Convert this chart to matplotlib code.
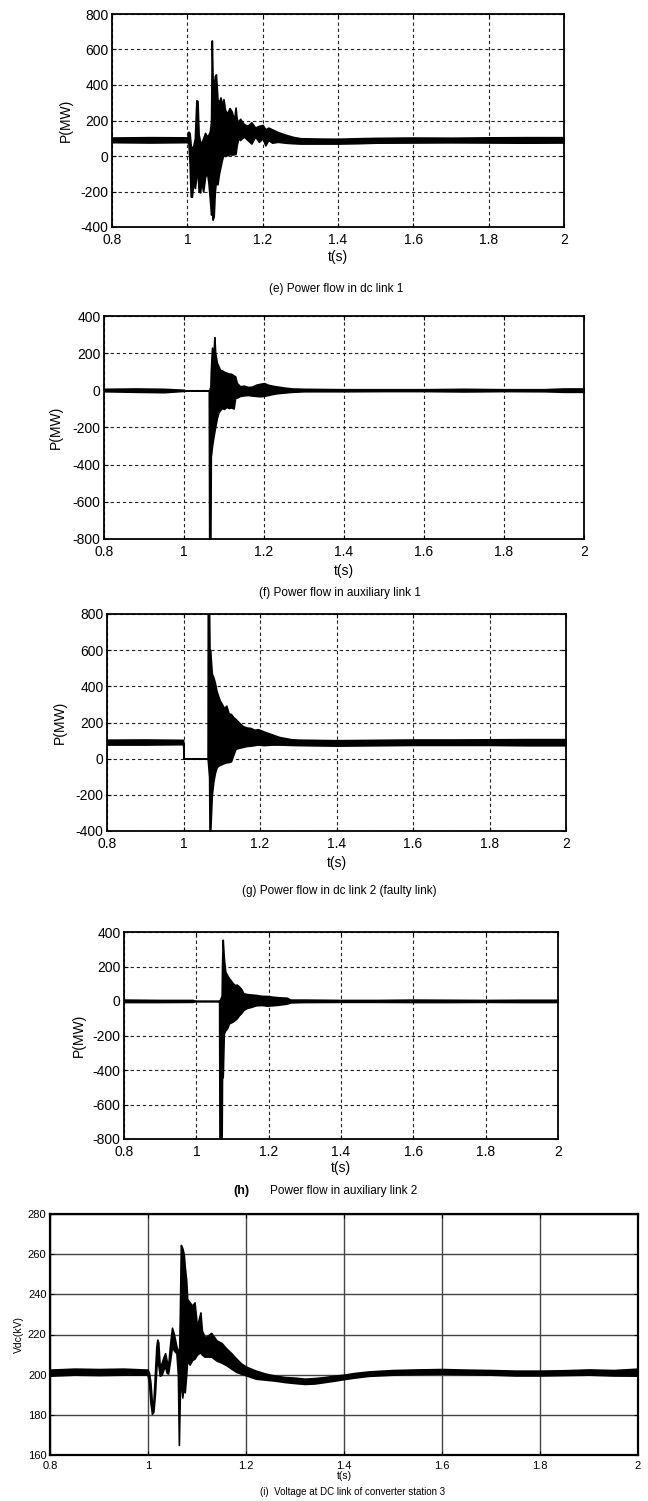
import matplotlib as mpl
mpl.use("Agg")
import matplotlib.pyplot as plt

# =============================================================================
# 0) Style
# =============================================================================
mpl.rcParams['font.family'] = ['Liberation Sans', 'DejaVu Sans']
mpl.rcParams['axes.linewidth'] = 1.3
mpl.rcParams['xtick.direction'] = 'in'
mpl.rcParams['ytick.direction'] = 'in'

W, H = 648, 1501
DPI = 100

# =============================================================================
# 1) Data (envelopes: time, upper, lower)
# =============================================================================
# (e) power flow in dc link 1, MW
e_t = [0.80, 0.90, 1.000, 1.003, 1.006, 1.009, 1.012, 1.016, 1.020, 1.024, 1.027,
       1.030, 1.034, 1.037, 1.042, 1.047, 1.052, 1.056, 1.060, 1.063, 1.065, 1.067,
       1.070, 1.073, 1.076, 1.080, 1.084, 1.088, 1.092, 1.096, 1.100, 1.106, 1.112,
       1.118, 1.124, 1.128, 1.131, 1.135, 1.140, 1.150, 1.160, 1.170, 1.180, 1.190,
       1.200, 1.207, 1.215, 1.225, 1.240, 1.260, 1.280, 1.300, 1.35, 1.40, 1.45,
       1.50, 1.60, 1.70, 1.80, 1.90, 2.00]
e_hi = [104, 106, 105, 137, 130, 60, 40, 60, 100, 314, 310,
        120, 80, 70, 100, 130, 110, 120, 140, 200, 651, 440,
        380, 450, 460, 320, 300, 330, 290, 320, 260, 240, 270,
        250, 200, 273, 210, 190, 210, 180, 170, 190, 160, 170,
        175, 150, 160, 150, 135, 120, 108, 100, 98, 97, 100,
        102, 104, 103, 105, 106, 106]
e_lo = [78, 76, 78, 70, -40, -228, -230, -150, -180, -120, -60,
        -200, -205, -140, -200, -120, -90, -150, -250, -330, -300, -359,
        -340, -200, -140, -160, -100, -60, -20, 10, 0, 5, 10,
        8, 10, 12, 60, 100, 90, 110, 90, 70, 110, 80,
        100, 60, 90, 75, 80, 75, 72, 70, 70, 70, 72,
        75, 76, 77, 76, 75, 76]

# (f) power flow in auxiliary link 1, MW
f_t = [0.80, 0.88, 0.95, 0.999, 1.000, 1.062, 1.063, 1.066, 1.067, 1.070, 1.073,
       1.076, 1.078, 1.082, 1.086, 1.090, 1.095, 1.100, 1.106, 1.112, 1.118, 1.124,
       1.128, 1.132, 1.140, 1.150, 1.160, 1.170, 1.180, 1.190, 1.200, 1.210, 1.220,
       1.235, 1.250, 1.270, 1.30, 1.40, 1.50, 1.60, 1.70, 1.80, 1.90, 1.95, 2.00]
f_hi = [8, 10, 8, 3, 0, 0, 0, 20, 100, 230, 160,
        286, 200, 150, 130, 110, 107, 100, 95, 90, 89, 80,
        75, 40, 22, 25, 18, 20, 30, 35, 39, 30, 25,
        20, 15, 10, 8, 6, 6, 6, 8, 6, 6, 10, 10]
f_lo = [-5, -8, -10, -3, 0, 0, -800, -800, -357, -300, -259,
        -220, -196, -150, -120, -107, -95, -100, -89, -95, -92, -98,
        -40, -39, -30, -27, -25, -28, -30, -32, -30, -25, -20,
        -15, -12, -8, -5, -5, -4, -4, -6, -4, -5, -8, -8]

# (g) power flow in dc link 2 (faulty link), MW
g_t = [0.80, 0.90, 0.999, 1.0005, 1.063, 1.0635, 1.067, 1.068, 1.070, 1.071, 1.074,
       1.078, 1.082, 1.086, 1.090, 1.095, 1.100, 1.106, 1.112, 1.118, 1.124, 1.130,
       1.136, 1.145, 1.155, 1.165, 1.175, 1.185, 1.195, 1.210, 1.230, 1.250, 1.280,
       1.30, 1.40, 1.50, 1.60, 1.70, 1.80, 1.90, 2.00]
g_hi = [105, 106, 104, 0, 0, 800, 800, 600, 602, 560, 471,
        450, 420, 377, 350, 320, 303, 280, 293, 250, 247, 230,
        219, 200, 180, 172, 170, 160, 163, 150, 135, 120, 108,
        105, 102, 104, 106, 106, 107, 108, 108]
g_lo = [78, 78, 80, 0, 0, -10, -100, -400, -400, -351, -200,
        -127, -80, -50, -40, -34, -30, -24, -20, -19, -15, 20,
        55, 60, 65, 70, 72, 75, 78, 75, 78, 78, 76,
        75, 72, 74, 76, 76, 76, 74, 74]

# (h) power flow in auxiliary link 2, MW
h_t = [0.80, 0.90, 0.99, 1.000, 1.063, 1.064, 1.070, 1.071, 1.073, 1.076, 1.080,
       1.085, 1.090, 1.095, 1.100, 1.106, 1.112, 1.118, 1.124, 1.130, 1.140, 1.150,
       1.165, 1.180, 1.195, 1.210, 1.225, 1.240, 1.250, 1.26, 1.30, 1.40, 1.50,
       1.60, 1.70, 1.80, 1.90, 2.00]
h_hi = [8, 6, 6, 0, 0, 0, 30, 200, 355, 250, 171,
        150, 132, 120, 105, 93, 95, 84, 70, 45, 40, 38,
        35, 30, 29, 25, 22, 20, 19, 8, 8, 6, 6,
        8, 7, 6, 7, 7]
h_lo = [-6, -6, -5, 0, 0, -800, -800, -450, -440, -188, -170,
        -159, -130, -125, -120, -110, -100, -82, -70, -52, -40, -35,
        -25, -23, -27, -25, -22, -18, -15, -8, -6, -5, -5,
        -6, -6, -5, -6, -6]

# (i) dc voltage at converter station 3, kV
i_t = [0.80, 0.85, 0.90, 0.95, 0.999, 1.002, 1.005, 1.008, 1.011, 1.014, 1.017,
       1.019, 1.021, 1.024, 1.028, 1.032, 1.035, 1.038, 1.041, 1.045, 1.049, 1.053,
       1.058, 1.061, 1.063, 1.065, 1.067, 1.070, 1.073, 1.075, 1.078, 1.080, 1.085,
       1.090, 1.095, 1.100, 1.104, 1.107, 1.110, 1.115, 1.120, 1.129, 1.140, 1.150,
       1.160, 1.170, 1.180, 1.190, 1.200, 1.210, 1.220, 1.240, 1.260, 1.280, 1.300,
       1.320, 1.340, 1.360, 1.380, 1.400, 1.420, 1.450, 1.500, 1.550, 1.600, 1.650,
       1.700, 1.750, 1.800, 1.850, 1.900, 1.950, 2.000]
i_hi = [202.5, 203, 202.8, 203, 202.5, 201, 196, 186, 186, 200, 214,
        217.5, 216, 204, 206, 209, 210.7, 207, 204, 215, 223.4, 220,
        214, 212, 205, 230, 264.6, 263, 260, 253.9, 247, 237.8, 236,
        234.4, 236, 224, 228, 231, 222, 219, 219, 220.8, 217, 215.8,
        213, 210.7, 208, 205.6, 204, 203, 202, 200.5, 199.5, 198.8, 198.5,
        198, 198.3, 198.8, 199.5, 200, 200.8, 201.6, 202.3, 202.6, 202.8, 202.5,
        202.3, 202, 202, 202.2, 202.6, 202.3, 203]
i_lo = [199.5, 200, 199.8, 200, 200, 196, 186, 180.5, 181.5, 190, 203,
        210, 205, 199.5, 200, 203, 204, 201, 200.5, 207, 214, 212,
        210.7, 200, 165, 190, 198.8, 188.6, 195, 191.2, 200, 207.3, 205,
        207.3, 208, 210, 210.7, 211, 210, 209, 209, 209, 207, 206,
        204.7, 203, 201.4, 200.5, 199.7, 198.8, 198, 197.5, 197, 196.3, 195.8,
        195.4, 195.6, 196.3, 197, 197.8, 198.5, 199.4, 200, 200.3, 200.5, 200.2,
        200, 199.6, 199.6, 199.8, 200, 199.6, 199.5]

x_ticks = [0.8, 1.0, 1.2, 1.4, 1.6, 1.8, 2.0]
x_ticklabels = ["0.8", "1", "1.2", "1.4", "1.6", "1.8", "2"]

# =============================================================================
# 2) Panel layout (pixel boxes: left, right, top, bottom) and captions
# =============================================================================
panels = [
    dict(t=e_t, hi=e_hi, lo=e_lo, box=(112, 564, 14, 227), ylim=(-400, 800),
         yticks=[-400, -200, 0, 200, 400, 600, 800], ylabel="P(MW)", ylab_x=66,
         xlab_y=257, cap="(e) Power flow in dc link 1", cap_x=336, cap_y=289),
    dict(t=f_t, hi=f_hi, lo=f_lo, box=(104, 584, 316, 539), ylim=(-800, 400),
         yticks=[-800, -600, -400, -200, 0, 200, 400], ylabel="P(MW)", ylab_x=56,
         xlab_y=571, cap="(f) Power flow in auxiliary link 1", cap_x=340, cap_y=593),
    dict(t=g_t, hi=g_hi, lo=g_lo, box=(107, 566, 614, 831), ylim=(-400, 800),
         yticks=[-400, -200, 0, 200, 400, 600, 800], ylabel="P(MW)", ylab_x=60,
         xlab_y=863, cap="(g) Power flow in dc link 2 (faulty link)", cap_x=339, cap_y=891),
    dict(t=h_t, hi=h_hi, lo=h_lo, box=(124, 558, 932, 1139), ylim=(-800, 400),
         yticks=[-800, -600, -400, -200, 0, 200, 400], ylabel="P(MW)", ylab_x=79,
         xlab_y=1168, cap=None, cap_x=0, cap_y=1191),
    dict(t=i_t, hi=i_hi, lo=i_lo, box=(50, 638, 1214, 1455), ylim=(160, 280),
         yticks=[160, 180, 200, 220, 240, 260, 280], ylabel="Vdc(kV)", ylab_x=19,
         xlab_y=1476, cap="(i)  Voltage at DC link of converter station 3", cap_x=353,
         cap_y=1492),
]

fig = plt.figure(figsize=(W / DPI, H / DPI), dpi=DPI)
fig.patch.set_facecolor("white")


def fx(px):
    return px / W


def fy(py):
    return 1 - py / H


# =============================================================================
# 3) Plot
# =============================================================================
for k, p in enumerate(panels):
    l, r, t, b = p["box"]
    ax = fig.add_axes([fx(l), fy(b), (r - l) / W, (b - t) / H])
    last = (k == 4)

    ax.fill_between(p["t"], p["lo"], p["hi"], facecolor="k", edgecolor="k",
                    linewidth=1.2, zorder=3)

    ax.set_xlim(0.8, 2.0)
    ax.set_ylim(*p["ylim"])
    ax.set_xticks(x_ticks)
    ax.set_xticklabels(x_ticklabels)
    ax.set_yticks(p["yticks"])
    ax.set_yticklabels([str(v) for v in p["yticks"]])

    tick_fs = 8 if last else 10
    ax.tick_params(axis="both", labelsize=tick_fs, length=3, width=0.8,
                   top=True, right=True)
    ax.tick_params(axis="x", pad=4.5 if last else 4)
    ax.tick_params(axis="y", pad=2.5)

    if last:
        ax.grid(True, color="#444444", linestyle="-", linewidth=1.0)
        for s in ax.spines.values():
            s.set_linewidth(1.6)
    else:
        ax.grid(True, color="#222222", linestyle=(0, (3, 2.5)), linewidth=0.8)
    ax.set_axisbelow(True)

    lab_fs = 7.5 if last else 10
    fig.text(fx((l + r) / 2), fy(p["xlab_y"]), "t(s)", fontsize=lab_fs,
             ha="center", va="center")
    fig.text(fx(p["ylab_x"]), fy((t + b) / 2), p["ylabel"], fontsize=lab_fs,
             ha="center", va="center", rotation=90)

    if p["cap"] is not None:
        fig.text(fx(p["cap_x"]), fy(p["cap_y"]), p["cap"],
                 fontsize=7 if last else 8.5, ha="center", va="center")
    else:
        fig.text(fx(241), fy(p["cap_y"]), "(h)", fontsize=9, fontweight="bold",
                 ha="center", va="center")
        fig.text(fx(270), fy(p["cap_y"]), "Power flow in auxiliary link 2",
                 fontsize=8.5, ha="left", va="center")

# =============================================================================
# 4) Save
# =============================================================================
fig.savefig("out.png", dpi=DPI)
plt.close(fig)
